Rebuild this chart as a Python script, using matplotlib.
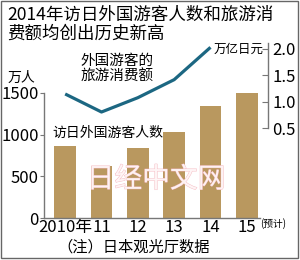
import matplotlib.pyplot as plt
import matplotlib.patheffects as pe
from matplotlib.patches import Rectangle

plt.rcParams["font.family"] = ["Noto Sans CJK SC", "DejaVu Sans"]

years = ["2010年", "11", "12", "13", "14", "15"]
visitors = [861, 622, 836, 1036, 1341, 1500]  # 万人, 2015 is forecast
spending_years = [0, 1, 2, 3, 4]
spending = [1.15, 0.81, 1.08, 1.42, 2.03]  # 万亿日元

bar_color = "#b9985f"
line_color = "#1c6782"
spine_color = "#777777"


def main() -> None:
    fig = plt.figure(figsize=(3.0, 2.6), dpi=100)
    ax = fig.add_axes([0.147, 0.1615, 0.746, 0.685])
    ax2 = ax.twinx()

    x = list(range(len(years)))
    ax.bar(x, visitors, width=0.6, color=bar_color, zorder=2)
    ax2.plot(spending_years, spending, color=line_color, lw=2.3, solid_capstyle="butt")

    ax.set_xlim(-0.58, 5.58)
    ax.set_ylim(0, 2136)
    ax2.set_ylim(-1.19, 2.17)

    ax.set_xticks(x)
    ax.set_xticklabels(years, fontsize=12)
    ax.tick_params(axis="x", length=0, pad=1)
    ax.set_yticks([0, 500, 1000, 1500])
    ax.tick_params(axis="y", labelsize=12, length=3, pad=1, color=spine_color)
    ax2.set_yticks([0.5, 1.0, 1.5, 2.0])
    ax2.set_yticklabels(["0.5", "1.0", "1.5", "2.0"])
    ax2.tick_params(axis="y", labelsize=12, length=4, direction="in", pad=3, color=spine_color)

    for a in (ax, ax2):
        a.spines["top"].set_visible(False)
    ax.spines["right"].set_visible(False)
    ax2.spines["left"].set_visible(False)
    ax2.spines["bottom"].set_visible(False)
    ax.spines["left"].set_bounds(0, 1500)
    ax.spines["bottom"].set_bounds(-0.58, 5.35)
    ax2.spines["right"].set_bounds(0.5, 2.12)
    for s in (ax.spines["left"], ax.spines["bottom"], ax2.spines["right"]):
        s.set_color(spine_color)
        s.set_linewidth(1.0)

    # titles and labels
    fig.text(0.025, 0.942, "2014年访日外国游客人数和旅游消", fontsize=12.6, fontweight="medium", va="center")
    fig.text(0.025, 0.869, "费额均创出历史新高", fontsize=12.6, fontweight="medium", va="center")
    fig.text(0.073, 0.70, "万人", fontsize=10, ha="center", va="center")
    fig.text(0.877, 0.81, "万亿日元", fontsize=9, ha="right", va="center")
    fig.text(0.267, 0.765, "外国游客的", fontsize=10.5, va="center")
    fig.text(0.267, 0.703, "旅游消费额", fontsize=10.5, va="center")
    fig.text(0.173, 0.488, "访日外国游客人数", fontsize=10, va="center")
    fig.text(0.91, 0.142, "(预计)", fontsize=7, ha="center", va="center")
    fig.text(0.19, 0.05, "（注）日本观光厅数据", fontsize=11, va="center")

    # watermark
    fig.text(0.52, 0.31, "日经中文网", fontsize=20, ha="center", va="center",
             color="#fff6f7", alpha=0.85, zorder=10,
             path_effects=[pe.withStroke(linewidth=0.6, foreground="#f3b0b9")])

    fig.patches.append(Rectangle((0.004, 0.006), 0.99, 0.99, transform=fig.transFigure,
                                 fill=False, edgecolor="#666666", lw=1.0))

    fig.savefig("out.png", dpi=100)
    plt.close(fig)


if __name__ == "__main__":
    main()
